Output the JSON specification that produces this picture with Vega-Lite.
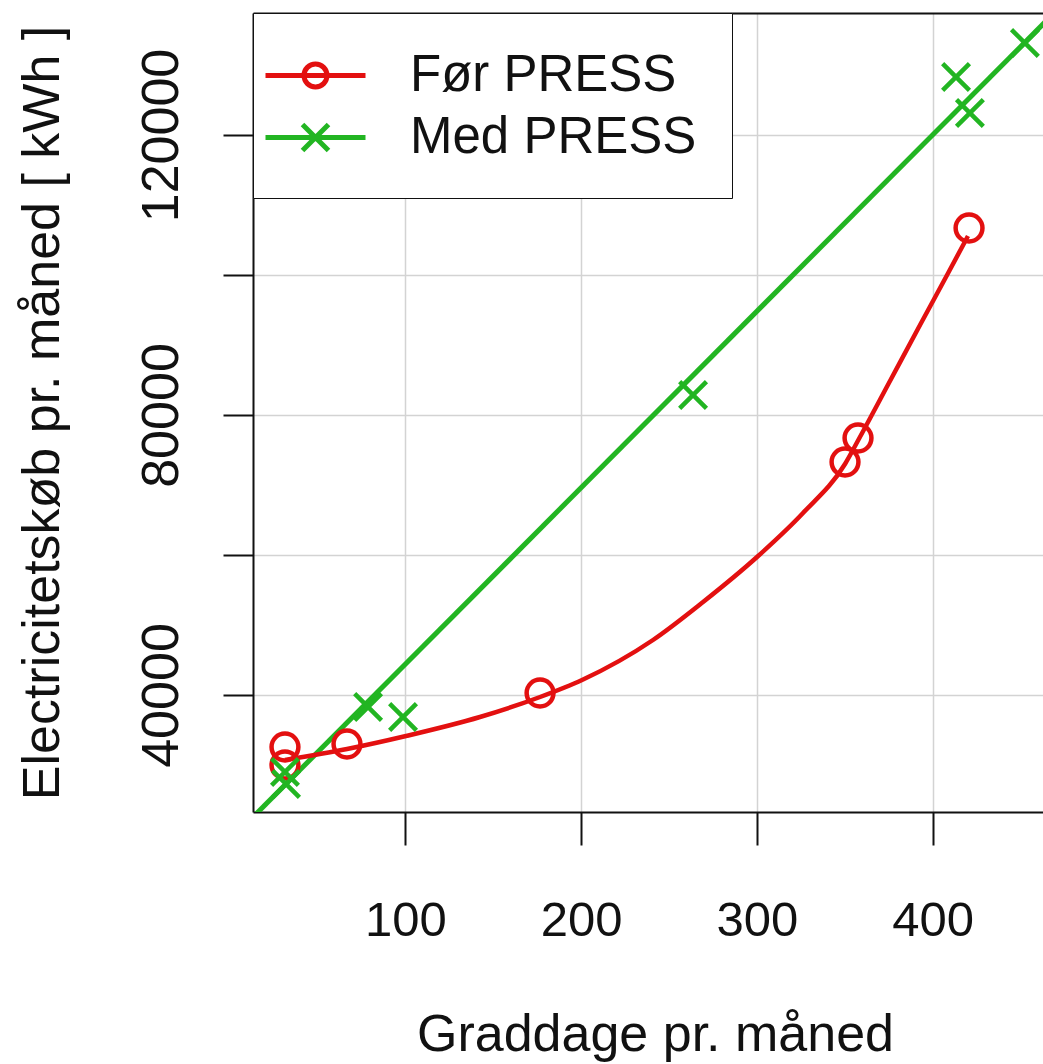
{
  "$schema": "https://vega.github.io/schema/vega-lite/v6.json",
  "autosize": {"type": "none"},
  "padding": {"left": 253, "top": 13, "right": 0, "bottom": 252},
  "width": 790,
  "height": 799,
  "background": "white",
  "config": {
    "view": {"stroke": null},
    "font": "Liberation Sans",
    "axis": {
      "labelFont": "Liberation Sans",
      "titleFont": "Liberation Sans",
      "labelColor": "#111111",
      "titleColor": "#111111",
      "titleFontWeight": "normal",
      "domainColor": "#111111",
      "domainWidth": 2,
      "tickColor": "#111111",
      "tickWidth": 2,
      "gridColor": "#d3d3d3",
      "gridWidth": 1.5
    }
  },
  "datasets": {
    "punkter": [
      {"graddage": 31.4, "kwh": 32571, "serie": "Før PRESS"},
      {"graddage": 31.4, "kwh": 30000, "serie": "Før PRESS"},
      {"graddage": 66.7, "kwh": 33000, "serie": "Før PRESS"},
      {"graddage": 176.6, "kwh": 40286, "serie": "Før PRESS"},
      {"graddage": 350.2, "kwh": 73286, "serie": "Før PRESS"},
      {"graddage": 357.6, "kwh": 76714, "serie": "Før PRESS"},
      {"graddage": 420.8, "kwh": 106714, "serie": "Før PRESS"},
      {"graddage": 31.4, "kwh": 29000, "serie": "Med PRESS"},
      {"graddage": 32.0, "kwh": 27286, "serie": "Med PRESS"},
      {"graddage": 78.7, "kwh": 38286, "serie": "Med PRESS"},
      {"graddage": 98.6, "kwh": 36857, "serie": "Med PRESS"},
      {"graddage": 263.7, "kwh": 82857, "serie": "Med PRESS"},
      {"graddage": 413.4, "kwh": 128286, "serie": "Med PRESS"},
      {"graddage": 421.3, "kwh": 123143, "serie": "Med PRESS"},
      {"graddage": 452.6, "kwh": 133143, "serie": "Med PRESS"}
    ],
    "glat": [
      {"graddage": 31.4, "kwh": 30714},
      {"graddage": 66.7, "kwh": 32286},
      {"graddage": 100.3, "kwh": 34143},
      {"graddage": 142.4, "kwh": 36857},
      {"graddage": 176.6, "kwh": 39714},
      {"graddage": 200.5, "kwh": 42143},
      {"graddage": 240.9, "kwh": 47857},
      {"graddage": 269.4, "kwh": 53286},
      {"graddage": 300.1, "kwh": 59714},
      {"graddage": 326.3, "kwh": 66000},
      {"graddage": 350.2, "kwh": 73000},
      {"graddage": 358.7, "kwh": 76857},
      {"graddage": 375.8, "kwh": 84857},
      {"graddage": 392.9, "kwh": 92857},
      {"graddage": 408.3, "kwh": 100000},
      {"graddage": 420.2, "kwh": 105571}
    ],
    "fit": [
      {"graddage": 10, "kwh": 21759},
      {"graddage": 470, "kwh": 137633}
    ]
  },
  "resolve": {"axis": {"x": "independent"}},
  "layer": [
    {
      "data": {"name": "fit"},
      "mark": {"type": "line", "color": "#22b522", "strokeWidth": 5, "clip": true},
      "encoding": {
        "x": {
          "field": "graddage", "type": "quantitative",
          "scale": {"domain": [13.2, 462.9], "nice": false, "zero": false},
          "axis": {
            "orient": "bottom",
            "values": [100, 200, 300, 400],
            "tickSize": 33,
            "labelFontSize": 49,
            "labelPadding": 51,
            "title": "Graddage pr. måned",
            "titleFontSize": 52,
            "titleBaseline": "alphabetic",
            "titleX": 402,
            "titleY": 238,
            "grid": true
          }
        },
        "y": {
          "field": "kwh", "type": "quantitative",
          "scale": {"domain": [23286, 137429], "nice": false, "zero": false},
          "axis": {
            "values": [40000, 60000, 80000, 100000, 120000],
            "format": "d",
            "labelExpr": "datum.value % 40000 === 0 ? datum.label : ''",
            "tickSize": 30,
            "labelAngle": 270,
            "labelAlign": "center",
            "labelBaseline": "alphabetic",
            "labelFontSize": 52,
            "labelPadding": 46,
            "title": "Electricitetskøb pr. måned [ kWh ]",
            "titleFontSize": 52,
            "titleBaseline": "alphabetic",
            "titleX": -195,
            "grid": true
          }
        }
      }
    },
    {
      "data": {"name": "glat"},
      "mark": {"type": "line", "color": "#e31010", "strokeWidth": 4.5, "interpolate": "monotone", "clip": true},
      "encoding": {
        "x": {
          "field": "graddage", "type": "quantitative",
          "axis": {"orient": "top", "ticks": false, "labels": false, "grid": false, "title": null, "domain": true}
        },
        "y": {"field": "kwh", "type": "quantitative"}
      }
    },
    {
      "data": {"name": "punkter"},
      "mark": {"type": "point", "filled": false, "strokeWidth": 4.5, "size": 720, "opacity": 1, "clip": true},
      "encoding": {
        "x": {"field": "graddage", "type": "quantitative", "axis": null},
        "y": {"field": "kwh", "type": "quantitative"},
        "color": {
          "field": "serie", "type": "nominal",
          "scale": {"domain": ["Før PRESS", "Med PRESS"], "range": ["#e31010", "#22b522"]},
          "legend": {
            "orient": "top-left",
            "offset": 0,
            "title": null,
            "padding": 35,
            "strokeColor": "#111111",
            "fillColor": "white",
            "labelFontSize": 51,
            "labelFont": "Liberation Sans",
            "labelColor": "#111111",
            "labelLimit": 600,
            "labelOffset": 67,
            "symbolOffset": 0,
            "rowPadding": 9,
            "symbolSize": 2500,
            "symbolStrokeWidth": 5,
            "symbolOpacity": 1
          }
        },
        "shape": {
          "condition": {"test": "datum.serie === 'Før PRESS'", "value": "circle"},
          "value": "M-1,-1L1,1M-1,1L1,-1"
        }
      }
    },
    {
      "data": {"name": "punkter"},
      "mark": {"type": "point", "filled": false, "strokeWidth": 5, "opacity": 0, "clip": true},
      "encoding": {
        "x": {"field": "graddage", "type": "quantitative", "axis": null},
        "y": {"field": "kwh", "type": "quantitative"},
        "shape": {
          "field": "serie", "type": "nominal",
          "scale": {
            "domain": ["Før PRESS", "Med PRESS"],
            "range": [
              "M-2,0H2M0.46,0A0.46,0.46 0 1,1 -0.46,0A0.46,0.46 0 1,1 0.46,0",
              "M-2,0H2M-0.52,-0.52L0.52,0.52M-0.52,0.52L0.52,-0.52"
            ]
          },
          "legend": null
        }
      }
    }
  ]
}
